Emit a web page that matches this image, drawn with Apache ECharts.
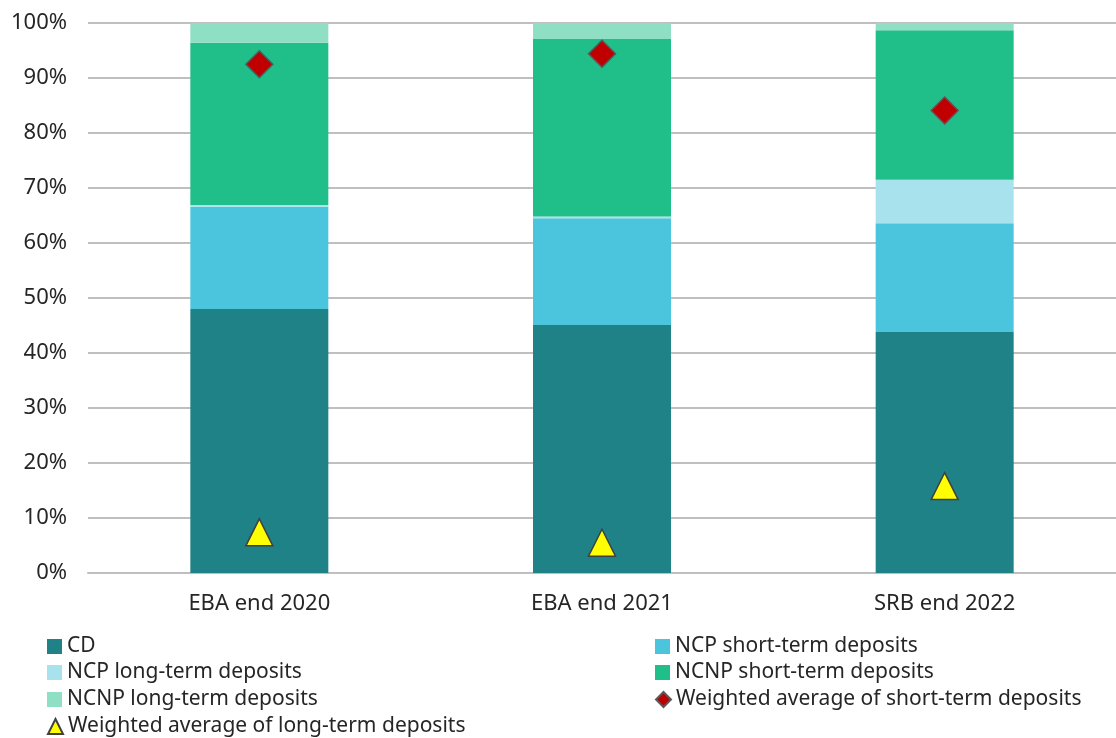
<!DOCTYPE html>
<html>
<head>
<meta charset="utf-8">
<script src="https://cdn.jsdelivr.net/npm/echarts@6/dist/echarts.min.js"></script>
<style>
html,body{margin:0;padding:0;background:#fff;}
#chart{width:1116px;height:738px;}
</style>
</head>
<body>
<div id="chart"></div>
<script>
const categories = ['EBA end 2020', 'EBA end 2021', 'SRB end 2022'];
const cd = [48.0, 45.1, 43.8];
const ncpShort = [18.6, 19.4, 19.8];
const ncpLong = [0.3, 0.3, 7.9];
const ncnpShort = [29.5, 32.3, 27.2];
const ncnpLong = [3.6, 2.9, 1.3];
const wavgShort = [92.5, 94.4, 84.1];
const wavgLong = [7.4, 5.5, 15.8];
const yTicks = [0, 10, 20, 30, 40, 50, 60, 70, 80, 90, 100];

const FONT = 'Noto Sans';
const TXT = '#262626';

const chart = echarts.init(document.getElementById('chart'), null, {renderer: 'canvas'});

function barSeries(name, data, color) {
  return {
    name: name, type: 'bar', stack: 'total', data: data,
    barWidth: 138,
    itemStyle: {color: color},
    emphasis: {disabled: true}
  };
}

const legendText = {fontFamily: FONT, fontSize: 21, lineHeight: 20, color: TXT};

// legend layout: [name, icon, column, row]
const legendItems = [
  ['CD', 'rect', 0, 0],
  ['NCP short-term deposits', 'rect', 1, 0],
  ['NCP long-term deposits', 'rect', 0, 1],
  ['NCNP short-term deposits', 'rect', 1, 1],
  ['NCNP long-term deposits', 'rect', 0, 2],
  ['Weighted average of short-term deposits', null, 1, 2],
  ['Weighted average of long-term deposits', null, 0, 3]
];
const colLeft = [47, 655];
const rowTop = [636, 662, 689, 716];

const legends = legendItems.map(function (it) {
  const d = {name: it[0]};
  if (it[1]) d.icon = it[1];
  return {
    orient: 'horizontal', left: colLeft[it[2]], top: rowTop[it[3]],
    itemWidth: 15, itemHeight: 15, padding: 0, itemGap: 0,
    textStyle: legendText, data: [d]
  };
});

const option = {
  animation: false,
  textStyle: {fontFamily: FONT, color: TXT},
  grid: {left: 88, right: 0, top: 23, bottom: 165, containLabel: false},
  legend: legends,
  xAxis: {
    type: 'category', data: categories,
    axisLine: {lineStyle: {color: '#bfbfbf', width: 2}},
    axisTick: {show: false},
    axisLabel: {fontFamily: FONT, fontSize: 22, color: TXT, margin: 20}
  },
  yAxis: {
    type: 'value', min: 0, max: 100, interval: 10,
    axisLine: {show: false},
    axisTick: {show: false},
    splitLine: {lineStyle: {color: '#bfbfbf', width: 2}},
    axisLabel: {fontFamily: FONT, fontSize: 22, color: TXT, margin: 21,
      formatter: function (v) { return yTicks.indexOf(v) >= 0 ? v + '%' : ''; }}
  },
  series: [
    barSeries('CD', cd, '#1f8287'),
    barSeries('NCP short-term deposits', ncpShort, '#4bc5dd'),
    barSeries('NCP long-term deposits', ncpLong, '#a8e2ec'),
    barSeries('NCNP short-term deposits', ncnpShort, '#20bf89'),
    barSeries('NCNP long-term deposits', ncnpLong, '#8fdfc4'),
    {
      name: 'Weighted average of short-term deposits', type: 'scatter',
      data: wavgShort, symbol: 'diamond', symbolSize: 27, z: 5,
      itemStyle: {color: '#c00000', borderColor: '#595959', borderWidth: 1.5, opacity: 1}
    },
    {
      name: 'Weighted average of long-term deposits', type: 'scatter',
      data: wavgLong, symbol: 'triangle', symbolSize: 27, z: 5,
      itemStyle: {color: '#ffff00', borderColor: '#404040', borderWidth: 1.5, opacity: 1}
    }
  ]
};
chart.setOption(option);
</script>
</body>
</html>
